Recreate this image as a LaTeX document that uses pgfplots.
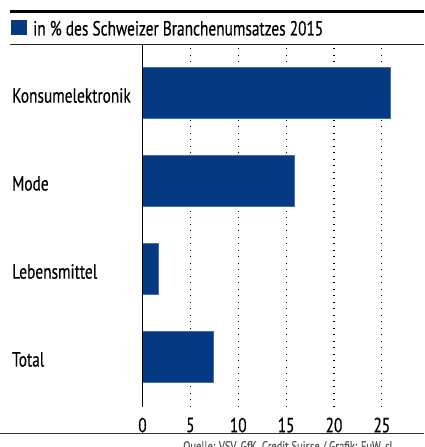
\documentclass[border=0pt]{standalone}
\usepackage{fontspec}
\setmainfont[FakeStretch=0.75,FakeBold=0.4]{PT Sans}
\usepackage{pgfplots}
\pgfplotsset{compat=1.18}
\definecolor{barblue}{HTML}{053A83}
\definecolor{baredge}{HTML}{4470B0}
\begin{document}
\begin{tikzpicture}[x=1pt,y=1pt]
\useasboundingbox (0,0) rectangle (424,447);
\clip (0,0) rectangle (424,447);
% header
\draw[line width=2.5pt, black] (10,435.5) -- (424,435.5);
\fill[barblue] (11,412) rectangle (27,427);
\node[anchor=base west, inner sep=0pt, font=\fontsize{20.5}{23}\selectfont] at (33,411.5) {in \% des Schweizer Branchenumsatzes 2015};
\draw[line width=0.8pt, black!85] (10,403) -- (424,403);
% axis
\begin{axis}[
  at={(142.5pt,40pt)}, anchor=south west,
  scale only axis, width=281.5pt, height=362pt,
  xmin=0, xmax=29.4, ymin=-0.568, ymax=3.545,
  xbar, bar width=51pt,
  axis line style={draw=none},
  xtick={0,5,10,15,20,25},
  ytick={0,1,2,3},
  yticklabels={Total,Lebensmittel,Mode,Konsumelektronik},
  major tick length=0pt,
  xmajorgrids,
  major grid style={black, line width=1.1pt, dash pattern=on 1.1pt off 5.4pt},
  /pgf/number format/assume math mode=true,
  tick label style={font=\fontsize{20.5}{23}\selectfont},
  xticklabel style={anchor=north, inner sep=0pt, yshift=-10.5pt},
  yticklabel style={anchor=west, inner sep=0pt, xshift=-130.5pt, yshift=-2.5pt},
  clip=false,
]
\addplot[fill=barblue, draw=baredge, line width=0.6pt] coordinates {(7.4,0) (1.7,1) (15.9,2) (25.9,3)};
\draw[black, line width=1.2pt] (axis cs:0,-0.568) -- (axis cs:0,3.545);
\end{axis}
% footer
\draw[line width=1pt, black!80] (0,13) -- (424,13);
\node[anchor=base west, inner sep=0pt, text=black!65, font=\fontsize{14}{16}\selectfont] at (183,-4) {Quelle: VSV, GfK, Credit Suisse / Grafik: FuW, sl};
\end{tikzpicture}
\end{document}
